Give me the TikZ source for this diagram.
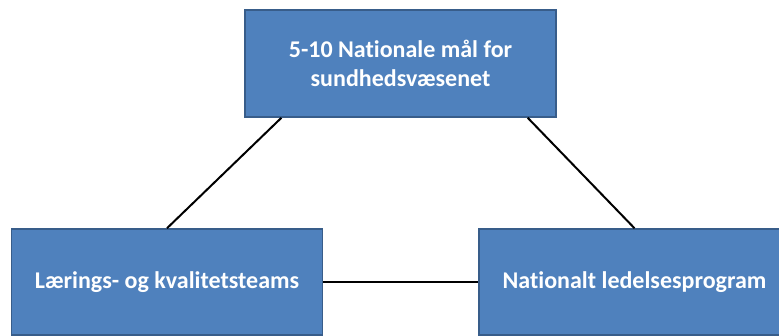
\documentclass[tikz,border=0pt]{standalone}
\usepackage{fontspec}
\setmainfont{Carlito}[Ligatures=NoCommon]
\usetikzlibrary{calc}
\definecolor{boxfill}{HTML}{4F81BD}
\definecolor{boxline}{HTML}{385D8A}
\tikzset{
  goalbox/.style={rectangle, fill=boxfill, draw=boxline, line width=1.5pt,
    minimum width=311pt, minimum height=107pt, inner sep=0pt,
    text=white, align=center, font=\bfseries\fontsize{24}{29.3}\selectfont},
  link/.style={draw=black, line width=2pt}
}
\begin{document}
\begin{tikzpicture}[x=1pt,y=-1pt]
  \useasboundingbox (0,0) rectangle (779,335);
  % three boxes
  \node[goalbox] (top) at (400.5,63.5) {5-10 Nationale mål for\\sundhedsvæsenet};
  \node[goalbox, minimum height=106pt] (left) at (167,282) {Lærings- og kvalitetsteams};
  \node[goalbox, minimum height=106pt] (right) at (634.5,282) {Nationalt ledelsesprogram};
  % attachment points on the lower edge of the top box
  \coordinate (tl) at ($(top.south west)!0.119!(top.south east)$);
  \coordinate (tr) at ($(top.south west)!0.907!(top.south east)$);
  % connectors
  \draw[link] (tl) -- (left.north);
  \draw[link] (tr) -- (right.north);
  \draw[link] (left.east) -- (right.west);
\end{tikzpicture}
\end{document}
